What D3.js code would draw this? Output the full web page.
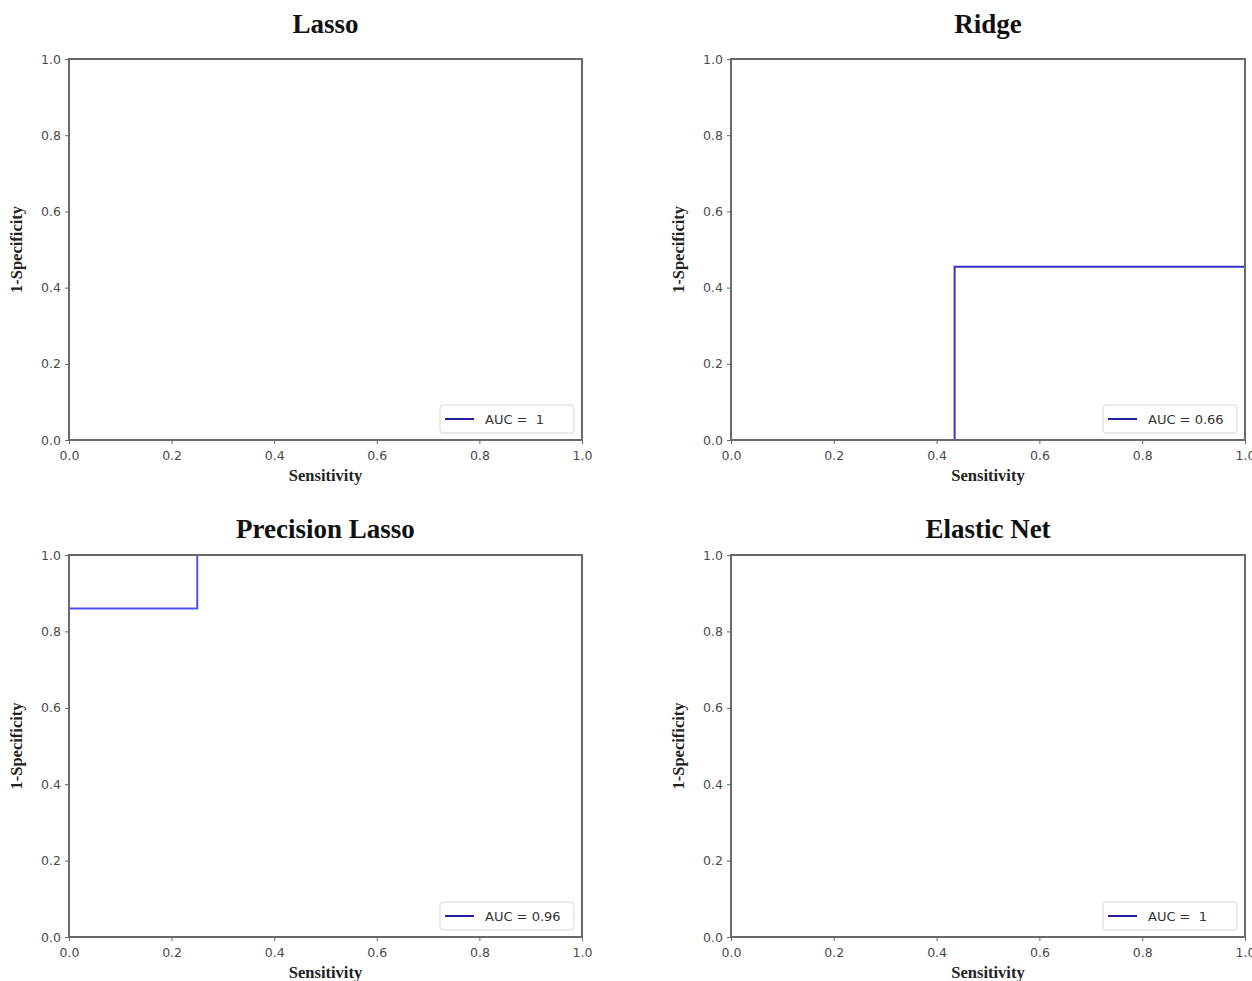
<!DOCTYPE html>
<html lang="en">
  <head>
    <meta charset="UTF-8" />
    <title>ROC curves</title>
    <script src="https://d3js.org/d3.v7.min.js"></script>
    <style>
      body {
        margin: 0;
        background: #fff;
      }
      .tick text {
        font-family: 'DejaVu Sans', sans-serif;
        font-size: 12.5px;
        fill: #4a4a4a;
      }
      .tick line {
        stroke: #666;
      }
      .domain {
        display: none;
      }
    </style>
  </head>
  <body>
    <div id="chart"></div>
    <script>
      // model names, one per panel
      const titles = ['Lasso', 'Ridge', 'Precision Lasso', 'Elastic Net'];
      // curve points [sensitivity, 1-specificity]
      const lassoCurve = [[0, 0], [0, 1], [1, 1]];
      const ridgeCurve = [[0, 0], [0.435, 0], [0.435, 0.455], [1, 0.455], [1, 1]];
      const precisionLassoCurve = [[0, 0], [0, 0.86], [0.25, 0.86], [0.25, 1], [1, 1]];
      const elasticNetCurve = [[0, 0], [0, 1], [1, 1]];
      const curves = [lassoCurve, ridgeCurve, precisionLassoCurve, elasticNetCurve];
      const aucLabels = ['AUC =  1', 'AUC = 0.66', 'AUC = 0.96', 'AUC =  1'];
      const tickValues = [0, 0.2, 0.4, 0.6, 0.8, 1.0];

      const width = 1252;
      const height = 981;

      // plot boxes for the 2x2 grid
      const cols = [
        { x0: 69, x1: 582 },
        { x0: 731, x1: 1245 },
      ];
      const rows = [
        { y0: 59, y1: 440, title: 33 },
        { y0: 555, y1: 937, title: 538 },
      ];
      const lineColors = ['#2f2fc4', '#3434c8', '#5050f2', '#2f2fc4'];

      const svg = d3
        .select('#chart')
        .append('svg')
        .attr('width', width)
        .attr('height', height);

      titles.forEach((title, i) => {
        const col = cols[i % 2];
        const row = rows[Math.floor(i / 2)];

        const x = d3.scaleLinear().domain([0, 1]).range([col.x0, col.x1]);
        const y = d3.scaleLinear().domain([0, 1]).range([row.y1, row.y0]);

        const g = svg.append('g');

        // curve first, so the frame covers anything on the edges
        g.append('path')
          .datum(curves[i])
          .attr('fill', 'none')
          .attr('stroke', lineColors[i])
          .attr('stroke-width', 2)
          .attr(
            'd',
            d3
              .line()
              .x((d) => x(d[0]))
              .y((d) => y(d[1]))
          );

        g.append('rect')
          .attr('x', col.x0)
          .attr('y', row.y0)
          .attr('width', col.x1 - col.x0)
          .attr('height', row.y1 - row.y0)
          .attr('fill', 'none')
          .attr('stroke', '#6a6a6a')
          .attr('stroke-width', 2);

        g.append('g')
          .attr('transform', `translate(0,${row.y1})`)
          .call(
            d3
              .axisBottom(x)
              .tickValues(tickValues)
              .tickFormat(d3.format('.1f'))
              .tickSize(4)
              .tickPadding(7)
          );

        g.append('g')
          .attr('transform', `translate(${col.x0},0)`)
          .call(
            d3
              .axisLeft(y)
              .tickValues(tickValues)
              .tickFormat(d3.format('.1f'))
              .tickSize(4)
              .tickPadding(4)
          );

        const cx = (col.x0 + col.x1) / 2;

        g.append('text')
          .attr('x', cx)
          .attr('y', row.title)
          .attr('text-anchor', 'middle')
          .style('font-family', "'Liberation Serif', serif")
          .style('font-weight', 'bold')
          .style('font-size', '27px')
          .style('fill', '#111')
          .text(title);

        g.append('text')
          .attr('x', cx)
          .attr('y', row.y1 + 41)
          .attr('text-anchor', 'middle')
          .style('font-family', "'Liberation Serif', serif")
          .style('font-weight', 'bold')
          .style('font-size', '16.5px')
          .style('fill', '#222')
          .text('Sensitivity');

        g.append('text')
          .attr(
            'transform',
            `translate(${col.x0 - 47},${(row.y0 + row.y1) / 2}) rotate(-90)`
          )
          .attr('text-anchor', 'middle')
          .style('font-family', "'Liberation Serif', serif")
          .style('font-weight', 'bold')
          .style('font-size', '16.5px')
          .style('fill', '#222')
          .text('1-Specificity');

        // legend in the lower right corner
        const lx = col.x1 - 142;
        const ly = row.y1 - 35;
        const legend = g.append('g').attr('transform', `translate(${lx},${ly})`);
        legend
          .append('rect')
          .attr('width', 134)
          .attr('height', 28)
          .attr('rx', 3)
          .attr('fill', '#fff')
          .attr('stroke', '#d8d8d8');
        legend
          .append('line')
          .attr('x1', 5)
          .attr('x2', 34)
          .attr('y1', 14)
          .attr('y2', 14)
          .attr('stroke', '#1f1fa0')
          .attr('stroke-width', 2);
        legend
          .append('text')
          .attr('x', 45)
          .attr('y', 18.5)
          .style('font-family', "'DejaVu Sans', sans-serif")
          .style('font-size', '13px')
          .style('fill', '#333')
          .style('white-space', 'pre')
          .text(aucLabels[i]);
      });
    </script>
  </body>
</html>
